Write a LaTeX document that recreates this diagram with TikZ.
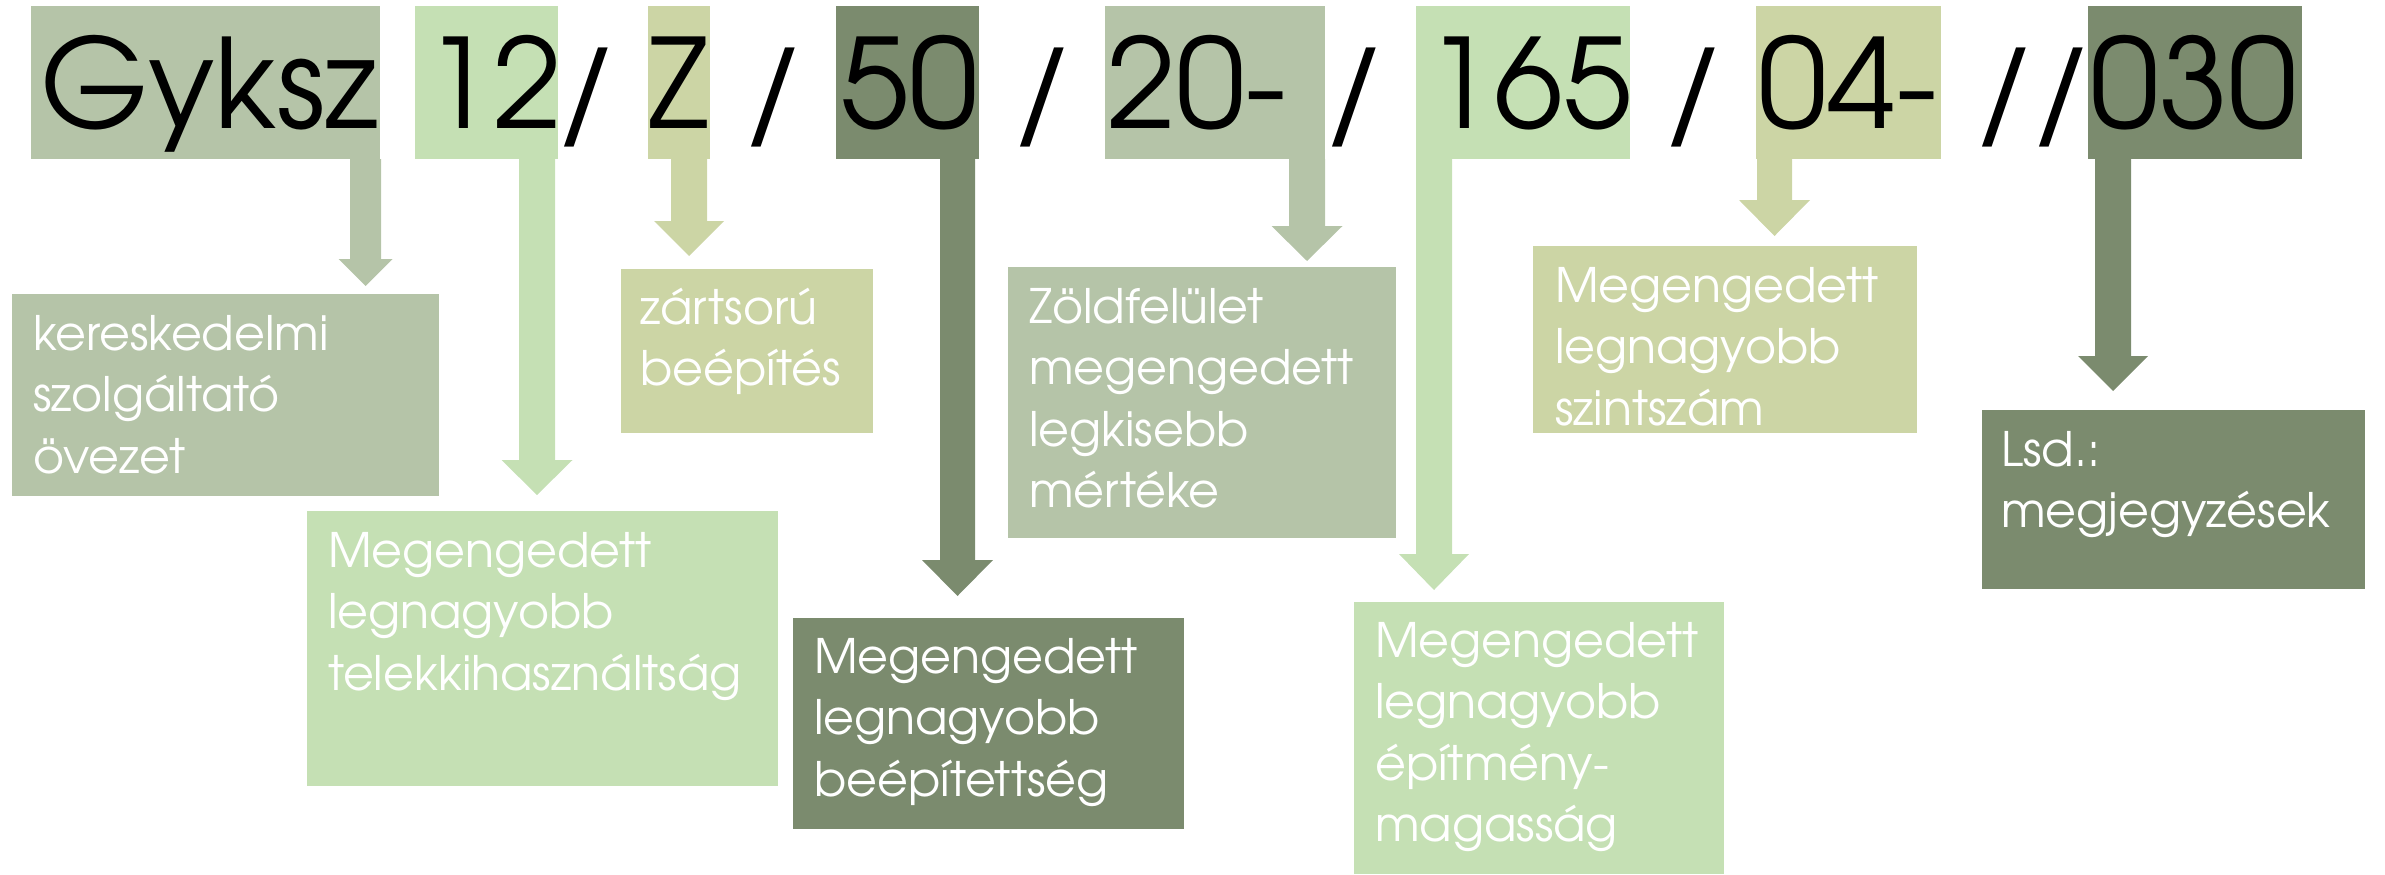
\documentclass[tikz,border=0pt]{standalone}
\usepackage{fontspec}
\setmainfont{texgyreadventor-regular.otf}
\usetikzlibrary{calc}
\definecolor{sage}{HTML}{B5C4A8}
\definecolor{lgreen}{HTML}{C5E0B4}
\definecolor{ygreen}{HTML}{CCD5A5}
\definecolor{dgreen}{HTML}{7B8B6E}
% #1 colour, #2 shaft left x, #3 shaft right x, #4 source node, #5 target node,
% #6 gap above target, #7 half head width, #8 head length
\newcommand\dnarrow[8]{%
  \fill[#1] let \p1=(#4.south), \p2=(#5.north), \n1={(#2+#3)/2} in
    (#2pt,\y1) -- (#3pt,\y1) -- (#3pt,{\y2+(#6+#8)*1pt})
    -- ({(\n1+#7)*1pt},{\y2+(#6+#8)*1pt}) -- ({\n1*1pt},{\y2+#6*1pt})
    -- ({(\n1-#7)*1pt},{\y2+(#6+#8)*1pt}) -- (#2pt,{\y2+(#6+#8)*1pt}) -- cycle;}
\newcommand\boxlines[1]{\parbox[t]{400pt}{\raggedright #1}}
\begin{document}
\begin{tikzpicture}[x=1pt,y=-1pt,
  hl/.style={anchor=north west, inner sep=0pt, outer sep=0pt, minimum height=153pt},
  bx/.style={anchor=north west, inner sep=0pt, outer sep=0pt},
  big/.style={anchor=base, inner sep=0pt, font=\fontsize{124}{124}\selectfont, text=black},
  btext/.style={anchor=base west, inner sep=0pt, text=white, font=\fontsize{47.5}{61.5}\selectfont},
]
\useasboundingbox (0,0) rectangle (2385,875);
% top highlight boxes
\node[hl, fill=sage,   minimum width=349pt] (gyksz) at (31,6) {};
\node[hl, fill=lgreen, minimum width=143pt] (b12)   at (415,6) {};
\node[hl, fill=ygreen, minimum width=62pt]  (bz)    at (648,6) {};
\node[hl, fill=dgreen, minimum width=143pt] (b50)   at (836,6) {};
\node[hl, fill=sage,   minimum width=220pt] (b20)   at (1105,6) {};
\node[hl, fill=lgreen, minimum width=214pt] (b165)  at (1416,6) {};
\node[hl, fill=ygreen, minimum width=185pt] (b04)   at (1756,6) {};
\node[hl, fill=dgreen, minimum width=214pt] (b030)  at (2088,6) {};
% top text
\node[big] (t1) at (209,128) {Gyksz};
\node[big] (t2) at (493,128) {12};
\node[big] (s1) at (586,128) {/};
\node[big] (t3) at (678,128) {Z};
\node[big] (s2) at (773,128) {/};
\node[big] (t4) at (909,128) {50};
\node[big] (s3) at (1042,128) {/};
\node[big] (t5) at (1197,128) {20-};
\node[big] (s4) at (1354,128) {/};
\node[big] (t6) at (1529,128) {165};
\node[big] (s5) at (1693,128) {/};
\node[big] (t7) at (1848,128) {04-};
\node[big] (s6) at (2004,128) {/};
\node[big] (s7) at (2061,128) {/};
\node[big] (t8) at (2194,128) {030};
% bottom boxes
\node[bx, fill=sage,   minimum width=427pt, minimum height=202pt] (ker)   at (12,294) {};
\node[bx, fill=lgreen, minimum width=471pt, minimum height=275pt] (telek) at (307,511) {};
\node[bx, fill=ygreen, minimum width=252pt, minimum height=164pt] (zart)  at (621,269) {};
\node[bx, fill=dgreen, minimum width=391pt, minimum height=211pt] (beep)  at (793,618) {};
\node[bx, fill=sage,   minimum width=388pt, minimum height=271pt] (zold)  at (1008,267) {};
\node[bx, fill=lgreen, minimum width=370pt, minimum height=272pt] (epit)  at (1354,602) {};
\node[bx, fill=ygreen, minimum width=384pt, minimum height=187pt] (szint) at (1533,246) {};
\node[bx, fill=dgreen, minimum width=383pt, minimum height=179pt] (lsd)   at (1982,410) {};
% arrows
\dnarrow{sage}{350}{381}{gyksz}{ker}{8}{27}{27}
\dnarrow{lgreen}{519}{555}{b12}{telek}{16}{35.5}{35}
\dnarrow{ygreen}{671}{707}{bz}{zart}{13}{35}{35}
\dnarrow{dgreen}{940}{975}{b50}{beep}{22}{35.5}{36}
\dnarrow{sage}{1289}{1325}{b20}{zold}{6}{35.5}{35}
\dnarrow{lgreen}{1416}{1452}{b165}{epit}{12}{35}{36}
\dnarrow{ygreen}{1757}{1792}{b04}{szint}{10}{35.5}{36}
\dnarrow{dgreen}{2095}{2131}{b030}{lsd}{19}{35}{35}
% box texts
\node[btext] (kert) at ($(ker.north west)+(21,56)$) {\boxlines{kereskedelmi\\szolgáltató\\övezet}};
\node[btext] (telekt) at ($(telek.north west)+(21,56)$) {\boxlines{Megengedett\\legnagyobb\\telekkihasználtság}};
\node[btext] (zartt) at ($(zart.north west)+(19,55)$) {\boxlines{zártsorú\\beépítés}};
\node[btext] (beept) at ($(beep.north west)+(21,55)$) {\boxlines{Megengedett\\legnagyobb\\beépítettség}};
\node[btext] (zoldt) at ($(zold.north west)+(21,56)$) {\boxlines{Zöldfelület\\megengedett\\legkisebb\\mértéke}};
\node[btext] (epitt) at ($(epit.north west)+(21,55)$) {\boxlines{Megengedett\\legnagyobb\\építmény-\\magasság}};
\node[btext] (szintt) at ($(szint.north west)+(22,56)$) {\boxlines{Megengedett\\legnagyobb\\szintszám}};
\node[btext] (lsdt) at ($(lsd.north west)+(19,56)$) {\boxlines{Lsd.:\\megjegyzések}};
\end{tikzpicture}
\end{document}
